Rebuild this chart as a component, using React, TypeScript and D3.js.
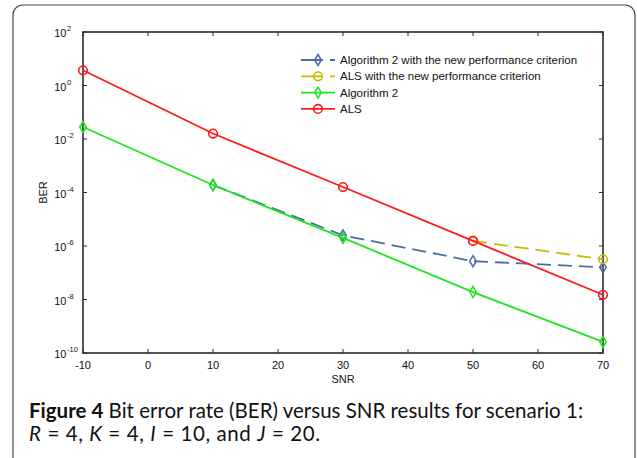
import * as d3 from "d3";

const snr = [-10, 10, 30, 50, 70];
const alsBer = [3.7, 0.016, 1.6e-4, 1.55e-6, 1.5e-8];
const alg2Ber = [2.8e-2, 1.9e-4, 2.0e-6, 1.9e-8, 2.6e-10];
const alg2NewSnr = [10, 30, 50, 70];
const alg2NewBer = [1.9e-4, 2.5e-6, 2.7e-7, 1.6e-7];
const alsNewSnr = [50, 70];
const alsNewBer = [1.55e-6, 3.2e-7];

const xTicks = [-10, 0, 10, 20, 30, 40, 50, 60, 70];
const yExps = [2, 0, -2, -4, -6, -8, -10];

type Pt = { x: number; y: number };
const zip = (xs: number[], ys: number[]): Pt[] => xs.map((x, i) => ({ x, y: ys[i] }));

const series = [
  { name: "Algorithm 2 with the new performance criterion", color: "#4c6aa8", dash: "14,7", marker: "diamond", pts: zip(alg2NewSnr, alg2NewBer) },
  { name: "ALS with the new performance criterion", color: "#c9b800", dash: "14,7", marker: "circle", pts: zip(alsNewSnr, alsNewBer) },
  { name: "Algorithm 2", color: "#1ee61e", dash: "", marker: "diamond", pts: zip(snr, alg2Ber) },
  { name: "ALS", color: "#ff1a1a", dash: "", marker: "circle", pts: zip(snr, alsBer) },
];

const W = 637;
const H = 458;
const m = { left: 83, top: 32, right: 603, bottom: 353 };
const font = "Liberation Sans, Arial, sans-serif";

function Marker({ kind, x, y, color }: { kind: string; x: number; y: number; color: string }) {
  if (kind === "circle") {
    return <circle cx={x} cy={y} r={4.3} fill="none" stroke={color} strokeWidth={1.6} />;
  }
  return (
    <path
      d={`M${x},${y - 5.5}L${x + 3.3},${y}L${x},${y + 5.5}L${x - 3.3},${y}Z`}
      fill="none"
      stroke={color}
      strokeWidth={1.5}
    />
  );
}

export default function App() {
  const x = d3.scaleLinear().domain([-10, 70]).range([m.left, m.right]);
  const y = d3.scaleLog().domain([1e-10, 1e2]).range([m.bottom, m.top]);

  const line = d3
    .line<Pt>()
    .x((d) => x(d.x))
    .y((d) => y(d.y));

  const axisColor = "#2b2b2b";
  const legendX = 301;
  const legendY = 60;
  const legendStep = 16.3;

  return (
    <svg
      width={W}
      height={H}
      viewBox={`0 0 ${W} ${H}`}
      style={{ position: "absolute", left: 0, top: 0, background: "#fff" }}
    >
      {/* outer frame */}
      <rect x={13} y={5} width={622} height={480} rx={10} fill="#fff" stroke="#444" strokeWidth={1.2} />

      {/* plot box */}
      <rect
        x={m.left}
        y={m.top}
        width={m.right - m.left}
        height={m.bottom - m.top}
        fill="none"
        stroke={axisColor}
        strokeWidth={1.6}
      />

      {/* x ticks */}
      {xTicks.map((t) => (
        <g key={`x${t}`}>
          <line x1={x(t)} x2={x(t)} y1={m.bottom} y2={m.bottom - 4} stroke={axisColor} strokeWidth={1} />
          <line x1={x(t)} x2={x(t)} y1={m.top} y2={m.top + 4} stroke={axisColor} strokeWidth={1} />
          <text x={x(t)} y={369} textAnchor="middle" fontFamily={font} fontSize={11} fill="#111">
            {t}
          </text>
        </g>
      ))}

      {/* y ticks */}
      {yExps.map((e) => {
        const yy = y(Math.pow(10, e));
        return (
          <g key={`y${e}`}>
            <line x1={m.left} x2={m.left + 4} y1={yy} y2={yy} stroke={axisColor} strokeWidth={1} />
            <line x1={m.right} x2={m.right - 4} y1={yy} y2={yy} stroke={axisColor} strokeWidth={1} />
            <text x={m.left - 16.5} y={yy + 5} textAnchor="end" fontFamily={font} fontSize={11} fill="#111">
              10
            </text>
            <text x={m.left - 16} y={yy - 1} textAnchor="start" fontFamily={font} fontSize={7.5} fill="#111">
              {e}
            </text>
          </g>
        );
      })}

      {/* axis labels */}
      <text x={(m.left + m.right) / 2} y={383} textAnchor="middle" fontFamily={font} fontSize={11} fill="#111">
        SNR
      </text>
      <text
        transform={`translate(47,${(m.top + m.bottom) / 2}) rotate(-90)`}
        textAnchor="middle"
        fontFamily={font}
        fontSize={11}
        fill="#111"
      >
        BER
      </text>

      {/* series */}
      {series.map((s) => (
        <g key={s.name}>
          <path
            d={line(s.pts) ?? ""}
            fill="none"
            stroke={s.color}
            strokeWidth={1.8}
            strokeDasharray={s.dash || undefined}
          />
          {s.pts.map((p, i) => (
            <Marker key={i} kind={s.marker} x={x(p.x)} y={y(p.y)} color={s.color} />
          ))}
        </g>
      ))}

      {/* legend */}
      {series.map((s, i) => {
        const ly = legendY + i * legendStep;
        return (
          <g key={`lg${i}`}>
            <line
              x1={legendX}
              x2={335}
              y1={ly}
              y2={ly}
              stroke={s.color}
              strokeWidth={1.8}
              strokeDasharray={s.dash ? "22,7,6" : undefined}
            />
            <Marker kind={s.marker} x={318} y={ly} color={s.color} />
            <text x={340} y={ly + 4} fontFamily={font} fontSize={11.5} fill="#111">
              {s.name}
            </text>
          </g>
        );
      })}

      {/* caption */}
      <text x={29} y={418} fontFamily="Lato, sans-serif" fontSize={20.5} fill="#111">
        <tspan fontWeight="bold">Figure 4</tspan>
        <tspan> Bit error rate (BER) versus SNR results for scenario 1:</tspan>
      </text>
      <text
        x={29}
        y={441}
        fontFamily="Lato, sans-serif"
        fontSize={20.5}
        fill="#111"
        textLength={291}
        lengthAdjust="spacing"
      >
        <tspan fontStyle="italic">R</tspan>
        <tspan> = 4, </tspan>
        <tspan fontStyle="italic">K</tspan>
        <tspan> = 4, </tspan>
        <tspan fontStyle="italic">I</tspan>
        <tspan> = 10, and </tspan>
        <tspan fontStyle="italic">J</tspan>
        <tspan> = 20.</tspan>
      </text>
    </svg>
  );
}
